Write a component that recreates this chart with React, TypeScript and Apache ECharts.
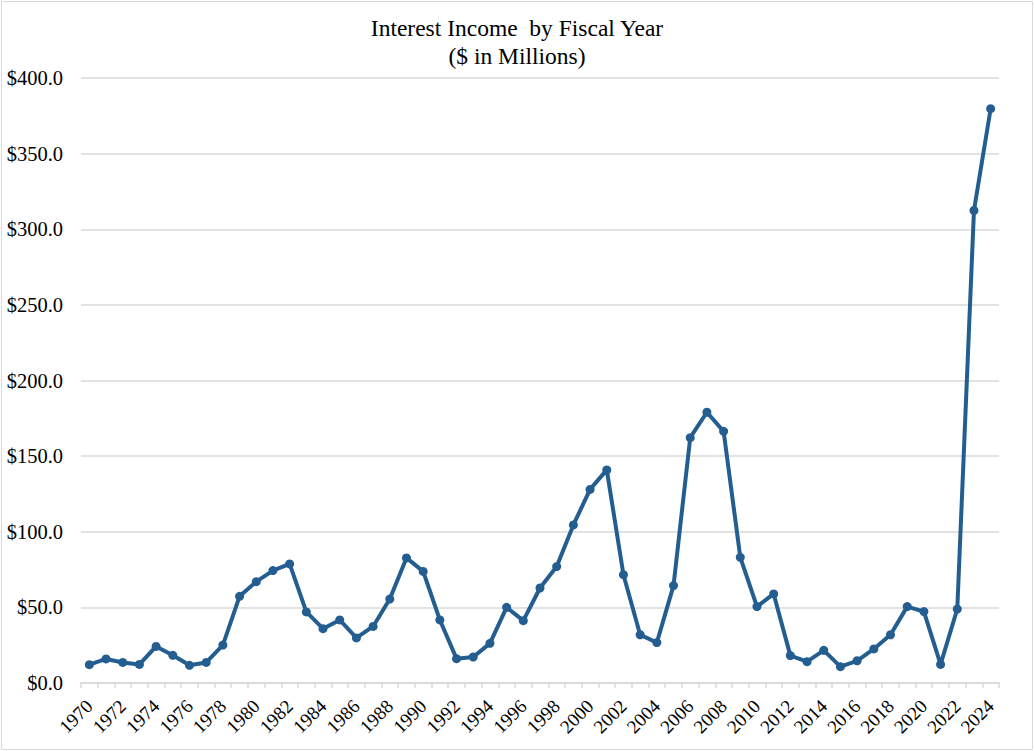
import React, { useEffect, useRef } from "react";
import * as echarts from "echarts";

const years: string[] = [];
for (let y = 1970; y <= 2024; y++) years.push(String(y));

const interestIncome = [
  12.1, 15.9, 13.6, 12.3, 24.2, 18.3, 11.7, 13.6, 25.1, 57.3,
  67.0, 74.3, 78.7, 47.0, 35.9, 41.7, 29.8, 37.4, 55.5, 82.7,
  73.8, 41.7, 16.1, 17.2, 26.2, 50.0, 41.2, 62.8, 77.0, 104.5,
  128.0, 140.9, 71.6, 31.9, 26.7, 64.4, 162.2, 179.0, 166.4, 83.1,
  50.5, 58.9, 18.1, 14.1, 21.6, 10.8, 14.7, 22.5, 31.9, 50.5,
  47.2, 12.3, 48.9, 312.4, 379.7,
];

const titleLines = ["Interest Income  by Fiscal Year", "($ in Millions)"];

const FONT = "'Liberation Serif', 'Times New Roman', serif";

export default function App() {
  const ref = useRef<HTMLDivElement>(null);
  useEffect(() => {
    if (!ref.current) return;
    const chart = echarts.init(ref.current, null, { renderer: "svg" });
    chart.setOption({
      animation: false,
      backgroundColor: "#ffffff",
      title: {
        text: titleLines.join("\n"),
        left: "center",
        top: 9,
        textStyle: {
          fontFamily: FONT,
          fontSize: 23.5,
          fontWeight: "normal",
          color: "#000000",
          lineHeight: 28,
        },
      },
      graphic: [
        {
          type: "rect",
          shape: { x: 1.5, y: 1.5, width: 1031, height: 748 },
          style: { fill: "none", stroke: "#d9d9d9", lineWidth: 1 },
          silent: true,
        },
      ],
      grid: { left: 81, right: 35, top: 78, bottom: 68, containLabel: false },
      xAxis: {
        type: "category",
        data: years,
        boundaryGap: true,
        axisLine: { lineStyle: { color: "#d9d9d9", width: 1.5 } },
        axisTick: { show: true, interval: 0, length: 5, lineStyle: { color: "#d9d9d9", width: 1.5 } },
        axisLabel: {
          interval: 1,
          rotate: 45,
          showMinLabel: true,
          showMaxLabel: true,
          hideOverlap: false,
          margin: 20,
          fontFamily: FONT,
          fontSize: 19,
          color: "#000000",
        },
      },
      yAxis: {
        type: "value",
        min: 0,
        max: 400,
        interval: 50,
        axisLine: { show: false },
        axisTick: { show: false },
        splitLine: { lineStyle: { color: "#d9d9d9", width: 1.5 } },
        axisLabel: {
          margin: 18,
          fontFamily: FONT,
          fontSize: 20.5,
          color: "#000000",
          formatter: (v: number) => "$" + v.toFixed(1),
        },
      },
      series: [
        {
          type: "line",
          data: interestIncome,
          symbol: "circle",
          symbolSize: 9,
          lineStyle: { color: "#245e91", width: 4 },
          itemStyle: { color: "#245e91" },
        },
      ],
    });
    return () => chart.dispose();
  }, []);
  return (
    <div
      ref={ref}
      style={{ position: "absolute", left: 0, top: 0, width: 1034, height: 751 }}
    />
  );
}
